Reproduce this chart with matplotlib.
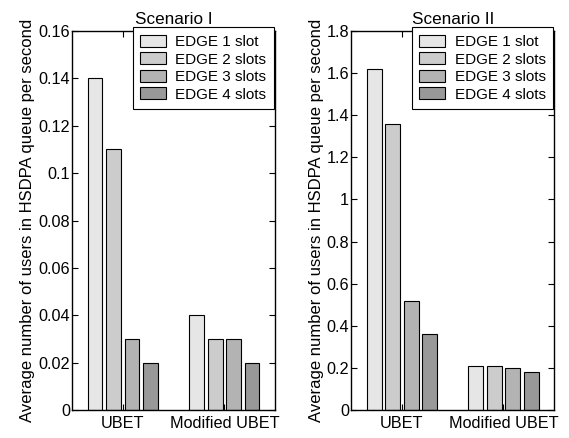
import matplotlib
matplotlib.use("Agg")
import matplotlib.pyplot as plt
import numpy as np

plt.rcParams["font.family"] = ["Liberation Sans", "DejaVu Sans"]
plt.rcParams["font.size"] = 11

groups = ["UBET", "Modified UBET"]
series = ["EDGE 1 slot", "EDGE 2 slots", "EDGE 3 slots", "EDGE 4 slots"]
colors = ["#e6e6e6", "#cccccc", "#b3b3b3", "#999999"]

scenario1 = [
    [0.14, 0.04],
    [0.11, 0.03],
    [0.03, 0.03],
    [0.02, 0.02],
]
scenario2 = [
    [1.62, 0.21],
    [1.36, 0.21],
    [0.52, 0.20],
    [0.36, 0.18],
]

panels = [
    ("Scenario I", scenario1, 0.16, np.arange(0, 0.161, 0.02),
     ["0", "0.02", "0.04", "0.06", "0.08", "0.1", "0.12", "0.14", "0.16"]),
    ("Scenario II", scenario2, 1.8, np.arange(0, 1.81, 0.2),
     ["0", "0.2", "0.4", "0.6", "0.8", "1", "1.2", "1.4", "1.6", "1.8"]),
]
lefts = [0.1265, 0.617]

fig = plt.figure(figsize=(5.69, 4.38), dpi=100)
x = np.arange(1, len(groups) + 1)
step = 0.182
width = 0.146

for left, (title, data, ymax, yticks, ylabels) in zip(lefts, panels):
    ax = fig.add_axes([left, 0.064, 0.357, 0.865])
    for i, (name, vals, col) in enumerate(zip(series, data, colors)):
        ax.bar(x + (i - 1.5) * step, vals, width, color=col,
               edgecolor="black", linewidth=0.8, label=name)
    ax.set_xlim(0.5, 2.5)
    ax.set_ylim(0, ymax)
    ax.set_xticks(x)
    ax.set_xticklabels(groups)
    ax.set_yticks(yticks)
    ax.set_yticklabels(ylabels)
    ax.tick_params(direction="in", top=True, right=True, length=4,
                   labelsize=11.7)
    ax.tick_params(axis="y", pad=1.5)
    ax.tick_params(axis="x", pad=4)
    for s in ax.spines.values():
        s.set_linewidth(1.0)
    ax.set_title(title, fontsize=12.3, pad=5)
    ax.set_ylabel("Average number of users in HSDPA queue per second",
                  fontsize=12, labelpad=2)
    leg = ax.legend(loc="upper right", bbox_to_anchor=(0.995, 1.01),
                    borderaxespad=0, fancybox=False, edgecolor="black",
                    framealpha=1, fontsize=11, handlelength=1.7,
                    handleheight=0.8, labelspacing=0.22, borderpad=0.5,
                    handletextpad=0.6)
    leg.get_frame().set_linewidth(0.8)

fig.savefig("out.png", dpi=100)
